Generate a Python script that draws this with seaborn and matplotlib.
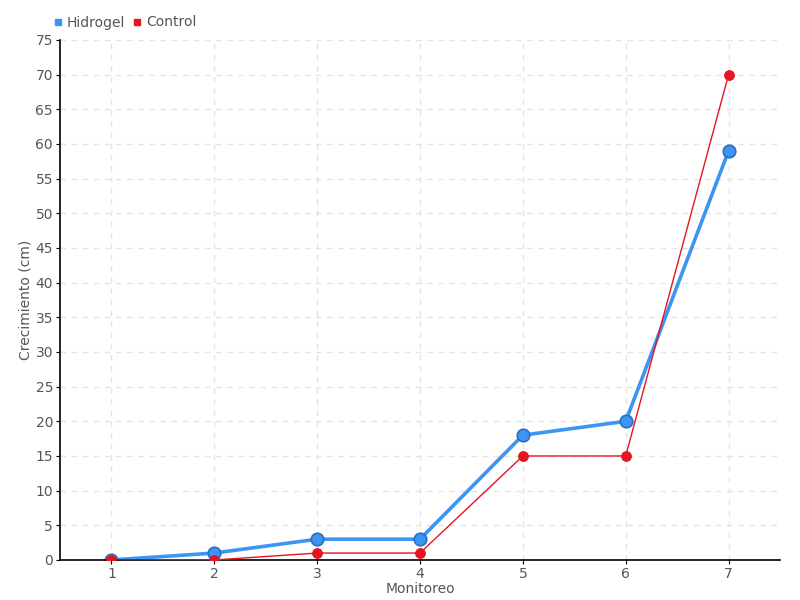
import matplotlib
matplotlib.use('Agg')
import matplotlib.pyplot as plt
import pandas as pd
import seaborn as sns
from matplotlib.lines import Line2D

# Data
monitoreo = [1, 2, 3, 4, 5, 6, 7]
hidrogel = [0, 1, 3, 3, 18, 20, 59]
control = [0, 0, 1, 1, 15, 15, 70]

df = pd.DataFrame({'Monitoreo': monitoreo * 2,
                   'Crecimiento': hidrogel + control,
                   'Serie': ['Hidrogel'] * 7 + ['Control'] * 7})

sns.set_style('white')
plt.rcParams['font.family'] = ['DejaVu Sans']

fig = plt.figure(figsize=(8, 6), dpi=100)
ax = fig.add_axes([0.075, 0.0667, 0.9, 0.8667])

blue = '#3d94f2'
red = '#e8141f'
txt = '#555555'

# Control first so Hidrogel draws on top
sns.lineplot(data=df[df['Serie'] == 'Control'], x='Monitoreo', y='Crecimiento',
             color=red, linewidth=1, marker='o', markersize=7,
             markeredgecolor=red, ax=ax, zorder=3)
sns.lineplot(data=df[df['Serie'] == 'Hidrogel'], x='Monitoreo', y='Crecimiento',
             color=blue, linewidth=2.6, marker='o', markersize=9,
             markeredgecolor='#2a6fc0', markeredgewidth=1.2, ax=ax, zorder=2)

ax.set_xlim(0.5, 7.5)
ax.set_ylim(0, 75)
ax.set_xticks(monitoreo)
ax.set_yticks(range(0, 80, 5))
ax.grid(True, color='#e4e4e4', linestyle=(0, (4, 4)), linewidth=1)
ax.set_axisbelow(True)
for s in ['top', 'right']:
    ax.spines[s].set_visible(False)
for s in ['left', 'bottom']:
    ax.spines[s].set_color('black')
    ax.spines[s].set_linewidth(1.2)
ax.tick_params(axis='both', labelcolor=txt, color='black', labelsize=10,
               length=3, pad=2, direction='out', left=True, bottom=True)
ax.set_xlabel('Monitoreo', color=txt, fontsize=10)
ax.set_ylabel('Crecimiento (cm)', color=txt, fontsize=10)
ax.xaxis.set_label_coords(0.5, -0.042)
ax.yaxis.set_label_coords(-0.038, 0.5)

handles = [Line2D([], [], marker='s', color=blue, linestyle='', markersize=5),
           Line2D([], [], marker='s', color=red, linestyle='', markersize=5)]
fig.legend(handles, ['Hidrogel', 'Control'], loc='upper left',
           bbox_to_anchor=(0.052, 0.995), ncol=2, frameon=False,
           handlelength=0.6, handletextpad=0.3, columnspacing=0.6,
           labelcolor=txt, fontsize=10)

fig.savefig('out.png', dpi=100)
